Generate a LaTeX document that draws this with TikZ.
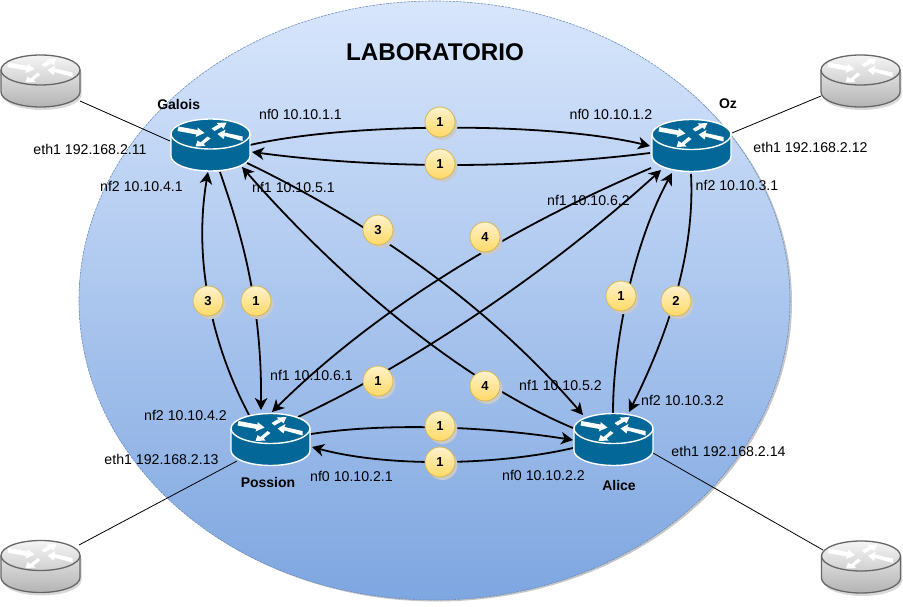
\documentclass[tikz,border=0pt]{standalone}
\usepackage{fontspec}
\setmainfont{Liberation Sans}
\usetikzlibrary{arrows.meta,shadows}
\definecolor{rblue}{HTML}{036897}
\definecolor{cloudtop}{HTML}{D8E6FC}
\definecolor{cloudmid}{HTML}{ABC6EE}
\definecolor{cloudbot}{HTML}{7EA6E0}
\definecolor{cloudline}{HTML}{6C8EBF}
\definecolor{badgetop}{HTML}{FFF2CC}
\definecolor{badgebot}{HTML}{FFD966}
\definecolor{badgeline}{HTML}{D6B656}
\definecolor{greytop}{HTML}{F5F5F5}
\definecolor{greybot}{HTML}{B3B3B3}
\definecolor{greyline}{HTML}{666666}
\definecolor{shadowgrey}{HTML}{C8CACC}
\pgfdeclareverticalshading{cloudshade}{100bp}{color(0bp)=(cloudbot);color(25bp)=(cloudbot);color(50bp)=(cloudmid);color(75bp)=(cloudtop);color(100bp)=(cloudtop)}
\tikzset{
  lab/.style={font=\fontsize{14.15}{16}\selectfont,anchor=base,inner sep=0pt},
  rname/.style={font=\fontsize{14}{16}\selectfont\bfseries,anchor=base,inner sep=0pt},
  routerbox/.style={rectangle,minimum width=79pt,minimum height=52pt,inner sep=0pt},
  badge/.style={circle,minimum size=30pt,inner sep=0pt,draw=badgeline,line width=0.8pt,
    top color=badgetop,bottom color=badgebot,font=\fontsize{13}{15}\selectfont\bfseries,
    general shadow={shadow xshift=2.5pt,shadow yshift=-3pt,fill=shadowgrey}},
  link/.style={line width=1.8pt,black},
  arrowlink/.style={link,-{Stealth[length=12pt,width=12.5pt,inset=3.5pt]}},
  uplink/.style={line width=0.8pt,black},
}
\newcommand\cylpath[1]{\path[#1] (-39.5,-11) .. controls (-39.5,-19.3) and (-21.8,-26) .. (0,-26) .. controls (21.8,-26) and (39.5,-19.3) .. (39.5,-11) -- (39.5,11) .. controls (39.5,19.3) and (21.8,26) .. (0,26) .. controls (-21.8,26) and (-39.5,19.3) .. (-39.5,11) -- cycle;}
\newcommand\toparc[1]{\path[#1] (-39.5,-11) .. controls (-39.5,-2.7) and (-21.8,4) .. (0,4) .. controls (21.8,4) and (39.5,-2.7) .. (39.5,-11);}
\newcommand\whitearrows[1]{%
  \begin{scope}[shift={(0,-11)}]
  \fill[#1] (-32,-7.5) -- (-13,-4) -- (-13,-6.5) -- (-6,-1) -- (-15,3) -- (-14,0.5) -- (-33,-3) -- cycle;
  \fill[#1] (32,2.5) -- (14,-1.5) -- (15,-4.5) -- (7,0) -- (13,5) -- (14,2) -- (32,7) -- cycle;
  \fill[#1] (1,-5.5) -- (8,-9.5) -- (6,-11) -- (16,-11.5) -- (13,-5) -- (11,-7) -- (4,-3) -- cycle;
  \fill[#1] (-3,2.5) -- (0,4.5) -- (-7,10) -- (-5,12) -- (-15,12.5) -- (-13,6.5) -- (-10,8.5) -- cycle;
  \end{scope}}
\newcommand\bluerouter[2]{%
  \begin{scope}[shift={(#1,#2)}]
  \cylpath{fill=rblue,draw=white,line width=1.4pt}
  \toparc{draw=white,line width=1.4pt}
  \whitearrows{white}
  \end{scope}}
\newcommand\greyrouter[2]{%
  \begin{scope}[shift={(#1,#2)}]
  \begin{scope}[shift={(1.5,3)}]\cylpath{fill=black!15}\end{scope}
  \cylpath{top color=greytop,bottom color=greybot,draw=greyline,line width=1.3pt}
  \toparc{draw=greyline,line width=1.3pt}
  \whitearrows{white}
  \end{scope}}
\begin{document}
\begin{tikzpicture}[x=1pt,y=-1pt]
\useasboundingbox (0,0) rectangle (903,607);
% cloud
\fill[gray!45] (436.5,302) ellipse [x radius=355.5,y radius=299.5];
\shade[shading=cloudshade] (434.5,300.5) ellipse [x radius=355.5,y radius=299.5];
\draw[cloudline,line width=0.6pt,dash pattern=on 2.5pt off 1pt] (434.5,300.5) ellipse [x radius=355.5,y radius=299.5];
% anchors
\node[routerbox] (galois) at (210.5,145) {};
\node[routerbox] (oz) at (691.5,145.5) {};
\node[routerbox] (possion) at (270.5,439.5) {};
\node[routerbox] (alice) at (613.5,439.5) {};
\node[routerbox] (ext1) at (40.5,81) {};
\node[routerbox] (ext2) at (860.5,81) {};
\node[routerbox] (ext3) at (40.5,566.5) {};
\node[routerbox] (ext4) at (861,567) {};
% uplinks
\draw[uplink] ([shift={(39.5,20)}]ext1.center) -- ([shift={(-40.5,-4)}]galois.center);
\draw[uplink] ([shift={(-39.5,15)}]ext2.center) -- ([shift={(40.5,-12.5)}]oz.center);
\draw[uplink] ([shift={(38.5,-21.5)}]ext3.center) -- ([shift={(-33.5,21.5)}]possion.center);
\draw[uplink] ([shift={(-38,-17)}]ext4.center) -- ([shift={(39.5,13.5)}]alice.center);
% links
\draw[arrowlink] ([shift={(39.5,0)}]galois.center) .. controls (350,122) and (550,122) .. ([shift={(-41.5,0.5)}]oz.center);
\draw[arrowlink] ([shift={(-41.5,7.5)}]oz.center) .. controls (520,169) and (380,169) .. ([shift={(41.5,7)}]galois.center);
\draw[arrowlink] ([shift={(9.5,27)}]galois.center) .. controls (240,230) and (262,300) .. ([shift={(-9.5,-29.5)}]possion.center);
\draw[arrowlink] ([shift={(-21.5,-24.5)}]possion.center) .. controls (212,345) and (193,260) .. ([shift={(-2.5,27)}]galois.center);
\draw[arrowlink] ([shift={(36.5,18)}]galois.center) .. controls (345,210) and (475,290) .. ([shift={(-30.5,-24.5)}]alice.center);
\draw[arrowlink] ([shift={(-40.5,-11.5)}]alice.center) .. controls (470,385) and (350,290) .. ([shift={(31.5,22)}]galois.center);
\draw[arrowlink] ([shift={(-40.5,22.5)}]oz.center) .. controls (540,215) and (390,295) .. ([shift={(1.5,-27.5)}]possion.center);
\draw[arrowlink] ([shift={(27.5,-22.5)}]possion.center) .. controls (400,370) and (540,280) .. ([shift={(-30.5,24.5)}]oz.center);
\draw[arrowlink] ([shift={(-0.5,-26.5)}]alice.center) .. controls (613,340) and (635,240) .. ([shift={(-19.5,27.5)}]oz.center);
\draw[arrowlink] ([shift={(-0.5,28.5)}]oz.center) .. controls (695,250) and (670,330) .. ([shift={(15.5,-27.5)}]alice.center);
\draw[arrowlink] ([shift={(40.5,-5.5)}]possion.center) .. controls (390,422) and (490,427) .. ([shift={(-40.5,0.5)}]alice.center);
\draw[arrowlink] ([shift={(-40.5,8.5)}]alice.center) .. controls (500,465) and (390,468) .. ([shift={(41.5,7.5)}]possion.center);
% routers
\bluerouter{210.5}{145}
\bluerouter{691.5}{145.5}
\bluerouter{270.5}{439.5}
\bluerouter{613.5}{439.5}
\greyrouter{40.5}{81}
\greyrouter{860.5}{81}
\greyrouter{40.5}{566.5}
\greyrouter{861}{567}
% badges
\node[badge] (b1) at (440,122) {1};
\node[badge] (b2) at (440,164) {1};
\node[badge] (b3) at (378,230) {3};
\node[badge] (b4) at (485,237) {4};
\node[badge] (b5) at (208,301) {3};
\node[badge] (b6) at (256,301) {1};
\node[badge] (b7) at (378,381) {1};
\node[badge] (b8) at (485,386) {4};
\node[badge] (b9) at (621,296) {1};
\node[badge] (b10) at (676,301) {2};
\node[badge] (b11) at (440,426) {1};
\node[badge] (b12) at (440,462) {1};
% texts
\node[font=\fontsize{24.2}{28}\selectfont\bfseries,anchor=base,inner sep=0pt] (title) at (435,61) {LABORATORIO};
\node[rname] (n1) at (178.7,110) {Galois};
\node[rname] (n2) at (728,109) {Oz};
\node[rname] (n3) at (268,487) {Possion};
\node[rname] (n4) at (619,490) {Alice};
\node[lab] (l1) at (300.5,120) {nf0 10.10.1.1};
\node[lab] (l2) at (611,120) {nf0 10.10.1.2};
\node[lab] (l3) at (90,155) {eth1 192.168.2.11};
\node[lab] (l4) at (810.5,153) {eth1 192.168.2.12};
\node[lab] (l5) at (141.5,192) {nf2 10.10.4.1};
\node[lab] (l6) at (293.5,193) {nf1 10.10.5.1};
\node[lab] (l7) at (588.5,206) {nf1 10.10.6.2};
\node[lab] (l8) at (737,191) {nf2 10.10.3.1};
\node[lab] (l9) at (311.5,380) {nf1 10.10.6.1};
\node[lab] (l10) at (560.5,390) {nf1 10.10.5.2};
\node[lab] (l11) at (682.5,405) {nf2 10.10.3.2};
\node[lab] (l12) at (185.5,420) {nf2 10.10.4.2};
\node[lab] (l13) at (161.5,464) {eth1 192.168.2.13};
\node[lab] (l14) at (728.5,456) {eth1 192.168.2.14};
\node[lab] (l15) at (351.5,481) {nf0 10.10.2.1};
\node[lab] (l16) at (543.5,480) {nf0 10.10.2.2};
\end{tikzpicture}
\end{document}
